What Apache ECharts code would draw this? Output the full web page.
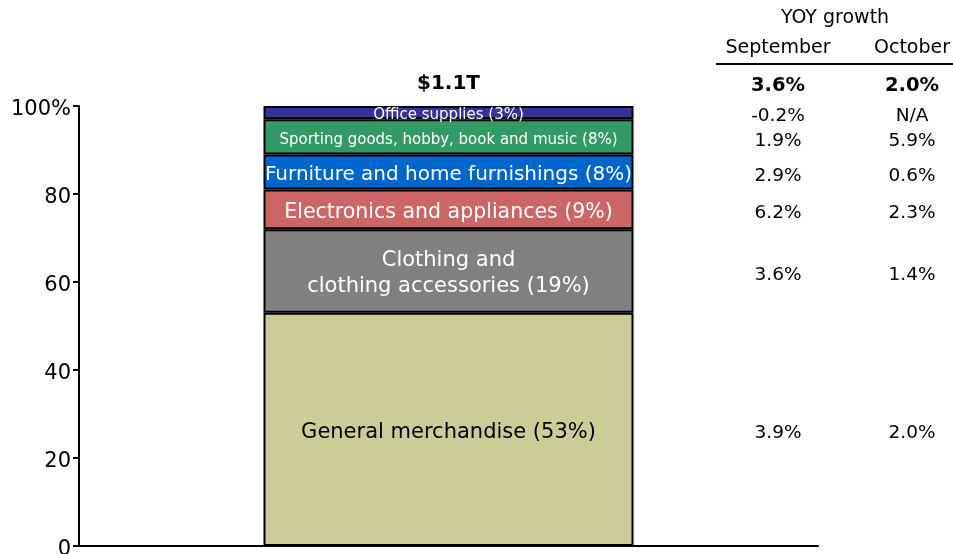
<!DOCTYPE html>
<html>
<head>
<meta charset="utf-8">
<script src="https://cdn.jsdelivr.net/npm/echarts@6/dist/echarts.min.js"></script>
<style>
  html, body { margin: 0; padding: 0; background: #fff; }
  #chart { width: 953px; height: 554px; }
</style>
</head>
<body>
<div id="chart"></div>
<script>
const categories = ['Retail sales']
const segments = [
  'General merchandise (53%)',
  'Clothing and\nclothing accessories (19%)',
  'Electronics and appliances (9%)',
  'Furniture and home furnishings (8%)',
  'Sporting goods, hobby, book and music (8%)',
  'Office supplies (3%)'
]
const shares = [53, 19, 9, 8, 8, 3]
const colors = ['#cccc99', '#808080', '#cc6666', '#0066cc', '#339966', '#333399']
const labelColors = ['#000', '#fff', '#fff', '#fff', '#fff', '#fff']
const labelSizes = [21, 21, 20.5, 20, 15, 15]
const totalLabel = '$1.1T'
const monthHeaders = ['September', 'October']
const totalGrowth = ['3.6%', '2.0%']
const septGrowth = ['3.9%', '3.6%', '6.2%', '2.9%', '1.9%', '-0.2%']
const octGrowth = ['2.0%', '1.4%', '2.3%', '0.6%', '5.9%', 'N/A']

const font = 'DejaVu Sans'
const chart = echarts.init(document.getElementById('chart'))

const series = shares.map((v, i) => ({
  name: segments[i],
  type: 'bar',
  stack: 'total',
  barWidth: 370,
  data: [v],
  itemStyle: { color: colors[i], borderColor: '#000', borderWidth: 2 },
  label: {
    show: true,
    position: 'inside',
    offset: [0, 3],
    formatter: segments[i],
    color: labelColors[i],
    fontFamily: font,
    fontSize: labelSizes[i],
    lineHeight: labelSizes[i] + 5
  }
}))

chart.setOption({
  animation: false,
  grid: { left: 79, right: 135, top: 106, bottom: 8, containLabel: false, outerBoundsMode: 'none' },
  xAxis: {
    type: 'category',
    data: categories,
    axisLine: { lineStyle: { color: '#000', width: 2 } },
    axisTick: { show: false },
    axisLabel: { show: false }
  },
  yAxis: {
    type: 'value',
    min: 0,
    max: 100,
    interval: 20,
    axisLine: { show: true, lineStyle: { color: '#000', width: 2 } },
    axisTick: { show: true, length: 6, lineStyle: { color: '#000', width: 2 } },
    splitLine: { show: false },
    axisLabel: {
      margin: 8,
      formatter: (v) => '{t|' + (v === 100 ? v + '%' : v) + '}',
      rich: {
        t: { color: '#000', fontFamily: font, fontSize: 21, padding: [8, 0, 0, 0] }
      }
    }
  },
  series
})

// growth table, rows placed at each segment's midpoint via the y scale
const colX = [778, 912]
const txt = (text, x, y, size, bold) => ({
  type: 'text',
  style: {
    text, x, y,
    align: 'center',
    verticalAlign: 'middle',
    font: (bold ? 'bold ' : '') + size + 'px ' + font,
    fill: '#000'
  }
})
const graphics = [
  txt('YOY growth', 835, 18, 19),
  { type: 'line', shape: { x1: 716, y1: 64, x2: 953, y2: 64 }, style: { stroke: '#000', lineWidth: 2 } }
]
monthHeaders.forEach((m, j) => {
  graphics.push(txt(m, colX[j], 48, 19))
  graphics.push(txt(totalGrowth[j], colX[j], 86, 19.5, true))
})
let base = 0
shares.forEach((v, i) => {
  const mid = base + v / 2
  base += v
  const py = chart.convertToPixel({ yAxisIndex: 0 }, mid) + 4
  graphics.push(txt(septGrowth[i], colX[0], py, 18.5))
  graphics.push(txt(octGrowth[i], colX[1], py, 18.5))
})
const barX = chart.convertToPixel({ xAxisIndex: 0 }, categories[0])
const topY = chart.convertToPixel({ yAxisIndex: 0 }, 100)
graphics.push(txt(totalLabel, barX, topY - 22, 20, true))

chart.setOption({ graphic: graphics })
</script>
</body>
</html>
